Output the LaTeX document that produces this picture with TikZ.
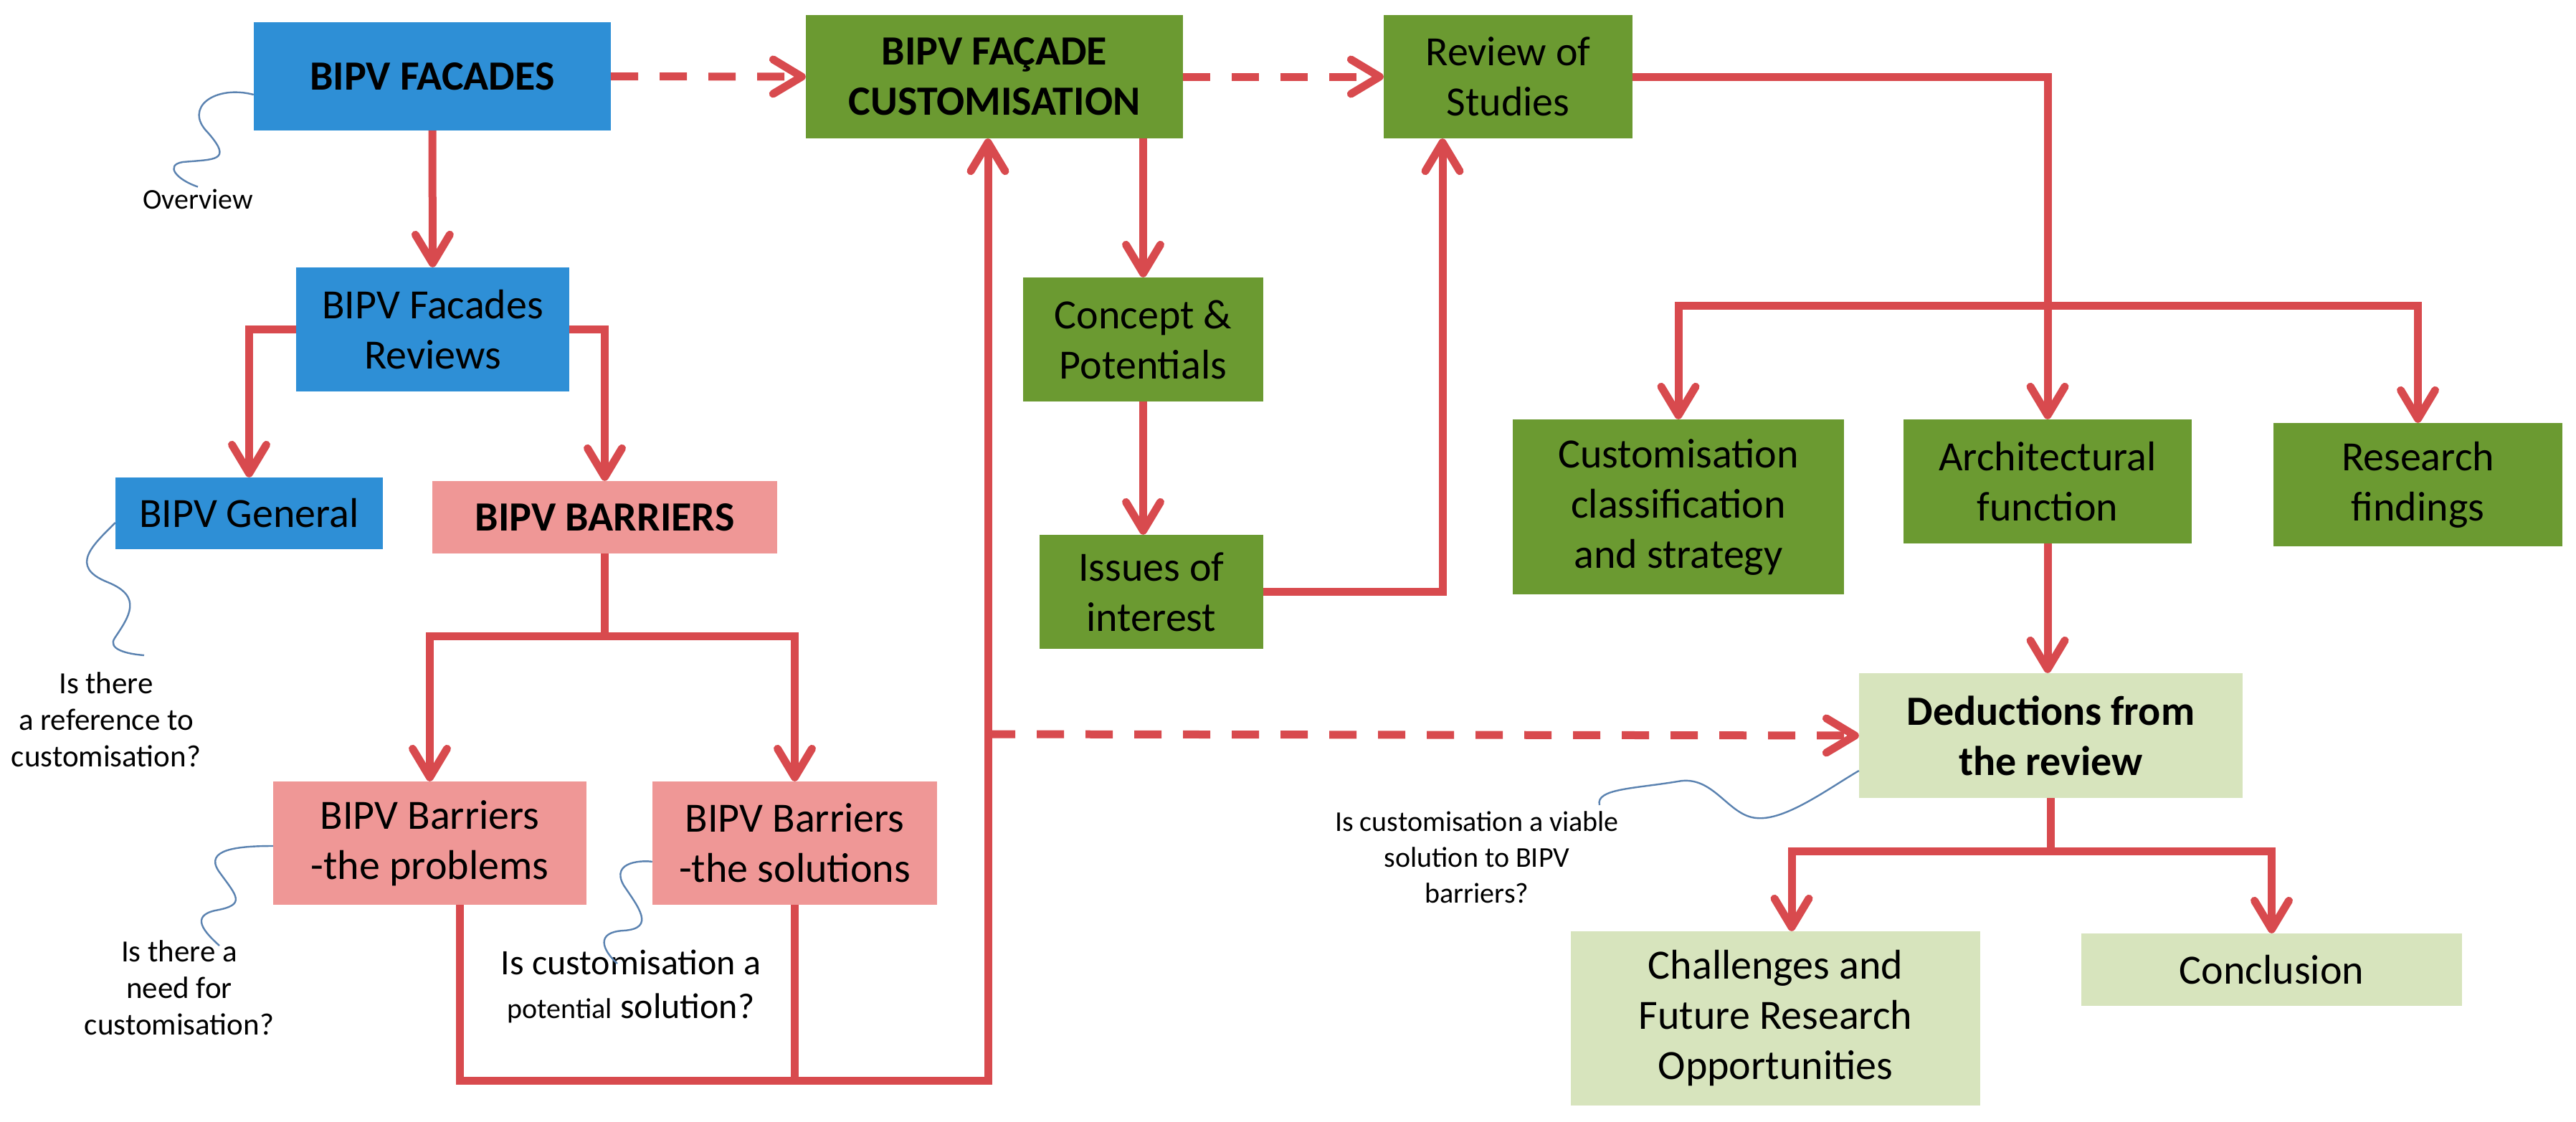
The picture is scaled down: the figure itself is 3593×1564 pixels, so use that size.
\documentclass[tikz,border=0pt]{standalone}
\usepackage{fontspec}
\setmainfont{Carlito}
\usetikzlibrary{arrows.meta}
\definecolor{cblue}{HTML}{2E8FD6}
\definecolor{cgreen}{HTML}{6B9A31}
\definecolor{cpink}{HTML}{EF9796}
\definecolor{clight}{HTML}{D7E4BD}
\definecolor{cred}{HTML}{D84A4E}
\definecolor{cwave}{HTML}{5A82B0}
\begin{document}
\begin{tikzpicture}[x=1pt,y=-1pt,
  box/.style={inner sep=0pt, align=center, font=\fontsize{58}{70}\selectfont},
  bluebox/.style={box, fill=cblue},
  greenbox/.style={box, fill=cgreen},
  pinkbox/.style={box, fill=cpink},
  lightbox/.style={box, fill=clight},
  plainline/.style={draw=cred, line width=11pt},
  conn/.style={plainline, -{Straight Barb[length=40pt,width=48pt,round]}},
  dashconn/.style={conn, dash pattern=on 38pt off 30pt},
  wave/.style={draw=cwave, line width=2.4pt},
  note/.style={align=center, font=\fontsize{40}{50}\selectfont},
  bignote/.style={align=center, font=\fontsize{43}{51}\selectfont},
]
\useasboundingbox[fill=white] (0,0) rectangle (3593,1564);

% ---- nodes ----
\node[bluebox, minimum width=498pt, minimum height=151pt] (fac) at (603,106.5) {\bfseries BIPV FACADES};
\node[bluebox, minimum width=381pt, minimum height=173pt] (rev) at (603.5,459.5) {BIPV Facades\\Reviews};
\node[bluebox, minimum width=373pt, minimum height=100pt] (gen) at (347.5,716) {BIPV General};
\node[pinkbox, minimum width=481pt, minimum height=101pt] (bar) at (843.5,721.5) {\bfseries BIPV BARRIERS};
\node[pinkbox, minimum width=437pt, minimum height=172pt] (prob) at (599.5,1176) {BIPV Barriers\\-the problems};
\node[pinkbox, minimum width=397pt, minimum height=172pt] (sol) at (1108.5,1176) {BIPV Barriers\\-the solutions};
\node[greenbox, minimum width=526pt, minimum height=172pt] (cus) at (1387,107) {\bfseries BIPV FAÇADE\\\bfseries CUSTOMISATION};
\node[greenbox, minimum width=347pt, minimum height=172pt] (rvw) at (2103.5,107) {Review of\\Studies};
\node[greenbox, minimum width=335pt, minimum height=173pt] (con) at (1594.5,473.5) {Concept \&\\Potentials};
\node[greenbox, minimum width=312pt, minimum height=159pt] (iss) at (1606,825.5) {Issues of\\interest};
\node[greenbox, minimum width=462pt, minimum height=244pt] (cls) at (2341,707) {Customisation\\classification\\and strategy};
\node[greenbox, minimum width=402pt, minimum height=173pt] (arc) at (2856,671.5) {Architectural\\function};
\node[greenbox, minimum width=403pt, minimum height=172pt] (res) at (3372.5,676) {Research\\findings};
\node[lightbox, minimum width=535pt, minimum height=174pt] (ded) at (2860.5,1026) {\bfseries Deductions from\\\bfseries the review};
\node[lightbox, minimum width=571pt, minimum height=243pt] (chl) at (2476.5,1420.5) {Challenges and\\Future Research\\Opportunities};
\node[lightbox, minimum width=531pt, minimum height=101pt] (ccl) at (3168.5,1352.5) {Conclusion};

% ---- notes ----
\node[note] (n1) at (276,278) {Overview};
\node[bignote] (n2) at (148,1004) {Is there\\a reference to\\customisation?};
\node[bignote] (n3) at (250,1378) {Is there a\\need for\\customisation?};
\node[align=center, font=\fontsize{50}{61}\selectfont] (n4) at (880,1376) {Is customisation a\\{\fontsize{40}{50}\selectfont potential} solution?};
\node[note] (n5) at (2060,1196) {Is customisation a viable\\solution to BIPV\\barriers?};

% ---- connectors ----
\draw[dashconn] (fac.east) -- (cus.west);
\draw[dashconn] (cus.east) -- (rvw.west);
\draw[conn] (fac.south) -- (rev.north);
\draw[conn] (rev.west) -| (gen.north);
\draw[conn] (rev.east) -| (bar.north);
\draw[conn] (bar.south) -- ++(0,115) -| (prob.north);
\draw[conn] (bar.south) -- ++(0,115) -| (sol.north);
\draw[plainline] (sol.south) -- ++(0,245);
\draw[conn] ([xshift=41.5pt]prob.south) -- ++(0,245) -| ([xshift=-9pt]cus.south);
\coordinate (vx) at (1378,1024);
\draw[dashconn] (vx) -- (ded.west);
\draw[conn] (cus.south -| con.north) -- (con.north);
\draw[conn] (con.south) -- (con.south |- iss.north);
\draw[conn] (iss.east) -| ([xshift=-91.5pt]rvw.south);
\draw[conn] (rvw.east) -| (arc.north);
\coordinate (hy) at (0,426);
\draw[conn] (arc.north |- hy) -| (cls.north);
\draw[conn] (arc.north |- hy) -| (res.north);
\draw[conn] (arc.south) -- (arc.south |- ded.north);
\draw[conn] (ded.south) -- ++(0,74) -| ([xshift=22.5pt]chl.north);
\draw[conn] (ded.south) -- ++(0,74) -| (ccl.north);

% ---- wavy callout lines ----
\draw[wave] (fac.west |- 0,132) .. controls (300,118) and (255,150) .. (290,185)
  .. controls (325,225) and (300,222) .. (255,226) .. controls (230,230) and (245,250) .. (n1.north);
\draw[wave] (gen.west |- 0,729) .. controls (130,760) and (95,790) .. (150,812)
  .. controls (200,832) and (180,860) .. (160,890) .. controls (150,905) and (175,912) .. (201,914);
\draw[wave] (prob.west |- 0,1180) .. controls (330,1180) and (285,1185) .. (305,1215)
  .. controls (330,1250) and (345,1262) .. (300,1270) .. controls (265,1278) and (285,1300) .. (306,1319);
\draw[wave] (sol.west |- 0,1202) .. controls (900,1200) and (850,1200) .. (870,1235)
  .. controls (890,1265) and (915,1295) .. (870,1298) .. controls (830,1300) and (840,1325) .. (861,1344);
\draw[wave] (ded.west |- 0,1075) .. controls (2550,1100) and (2490,1145) .. (2450,1141)
  .. controls (2410,1138) and (2390,1080) .. (2340,1090) .. controls (2280,1100) and (2225,1100) .. (2231,1123);
\end{tikzpicture}
\end{document}
